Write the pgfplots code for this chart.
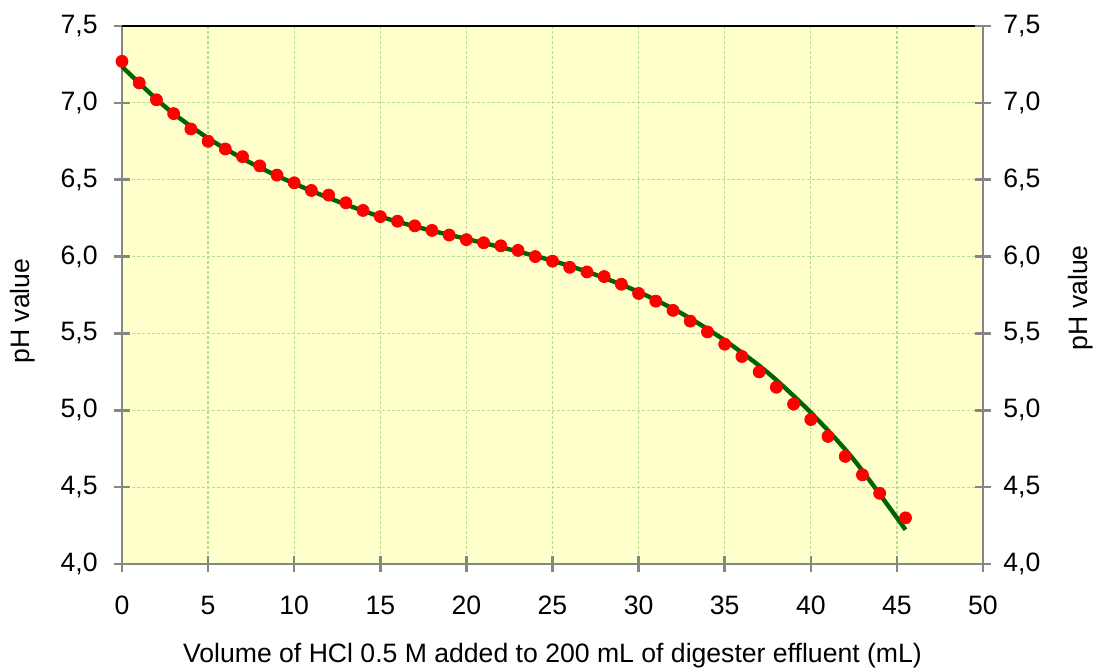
\documentclass[border=0pt]{standalone}
\usepackage{fontspec}
\setmainfont{Liberation Sans}
\usepackage{pgfplots}
\pgfplotsset{compat=1.18}
\definecolor{bgyellow}{RGB}{255,255,204}
\definecolor{gridgreen}{RGB}{184,222,140}
\definecolor{axgray}{RGB}{134,134,134}
\definecolor{fitgreen}{RGB}{0,100,0}
\begin{document}
\fontsize{13.3}{16}\selectfont
\begin{tikzpicture}
\begin{axis}[
  name=ax,
  scale only axis, width=430.5pt, height=269pt,
  xmin=0, xmax=50, ymin=4.0, ymax=7.5,
  xtick={0,5,...,50}, ytick={4.0,4.5,...,7.5},
  axis x line*=bottom, axis y line*=left,
  axis line style={draw=axgray, line width=1.3pt},
  tick align=center, major tick length=8pt,
  tick style={draw=axgray, line width=1.3pt},
  axis background/.style={fill=bgyellow},
  grid=major,
  major grid style={draw=gridgreen, line width=0.6pt, dash pattern=on 1.5pt off 1pt},
  /pgf/number format/assume math mode=true,
  xticklabel style={/pgf/number format/fixed, /pgf/number format/precision=0},
  yticklabel style={/pgf/number format/fixed, /pgf/number format/fixed zerofill, /pgf/number format/precision=1, /pgf/number format/use comma},
  every x tick label/.append style={inner sep=0pt, anchor=north, yshift=-11.8pt},
  every y tick label/.append style={inner sep=0pt, anchor=east, xshift=-8pt},
  xlabel={Volume of HCl 0.5 M added to 200 mL of digester effluent (mL)},
  every axis x label/.style={at={(axis description cs:0.5,0)}, anchor=base, yshift=-49pt},
  ylabel={pH value},
  every axis y label/.style={at={(axis description cs:0,0.47)}, anchor=center, rotate=90, yshift=49.5pt},
  clip=false,
]
\addplot[only marks, mark=*, mark size=3pt, mark options={fill=red, draw=red}] coordinates {
(0,7.27) (1,7.13) (2,7.02) (3,6.93) (4,6.83) (5,6.75) (6,6.70) (7,6.65) (8,6.59) (9,6.53)
(10,6.48) (11,6.43) (12,6.40) (13,6.35) (14,6.30) (15,6.26) (16,6.23) (17,6.20) (18,6.17) (19,6.14)
(20,6.11) (21,6.09) (22,6.07) (23,6.04) (24,6.00) (25,5.97) (26,5.93) (27,5.90) (28,5.87) (29,5.82)
(30,5.76) (31,5.71) (32,5.65) (33,5.58) (34,5.51) (35,5.43) (36,5.35) (37,5.25) (38,5.15) (39,5.04)
(40,4.94) (41,4.83) (42,4.70) (43,4.58) (44,4.46) (45.5,4.30)
};
\addplot[fitgreen, line width=2.2pt, smooth, no marks] coordinates {
(0,7.236) (2.5,6.975) (5,6.77) (7.5,6.608) (10,6.475) (12.5,6.36) (15,6.26) (17.5,6.182)
(20,6.115) (22.5,6.047) (25,5.973) (27.5,5.882) (30,5.77) (32.5,5.63) (35,5.455) (37.5,5.245)
(40,4.985) (42.5,4.678) (45.5,4.223)
};
\draw[black, line width=1pt] (rel axis cs:0,1) -- (rel axis cs:1,1);
\end{axis}
\begin{axis}[
  scale only axis, width=430.5pt, height=269pt,
  xmin=0, xmax=50, ymin=4.0, ymax=7.5,
  ytick={4.0,4.5,...,7.5},
  axis x line=none, axis y line*=right,
  axis line style={draw=axgray, line width=1.3pt},
  tick align=center, major tick length=8pt,
  tick style={draw=axgray, line width=1.3pt},
  /pgf/number format/assume math mode=true,
  yticklabel style={/pgf/number format/fixed, /pgf/number format/fixed zerofill, /pgf/number format/precision=1, /pgf/number format/use comma},
  every y tick label/.append style={inner sep=0pt, anchor=west, xshift=6pt},
  ylabel={pH value},
  every axis y label/.style={at={(axis description cs:1,0.495)}, anchor=center, rotate=90, yshift=-49pt},
]
\addplot[draw=none, forget plot] coordinates {(0,4)};
\end{axis}
\pgfresetboundingbox
\path ([shift={(-61pt,-52.5pt)}]ax.south west) rectangle ([shift={(57pt,13pt)}]ax.north east);
\end{tikzpicture}
\end{document}
